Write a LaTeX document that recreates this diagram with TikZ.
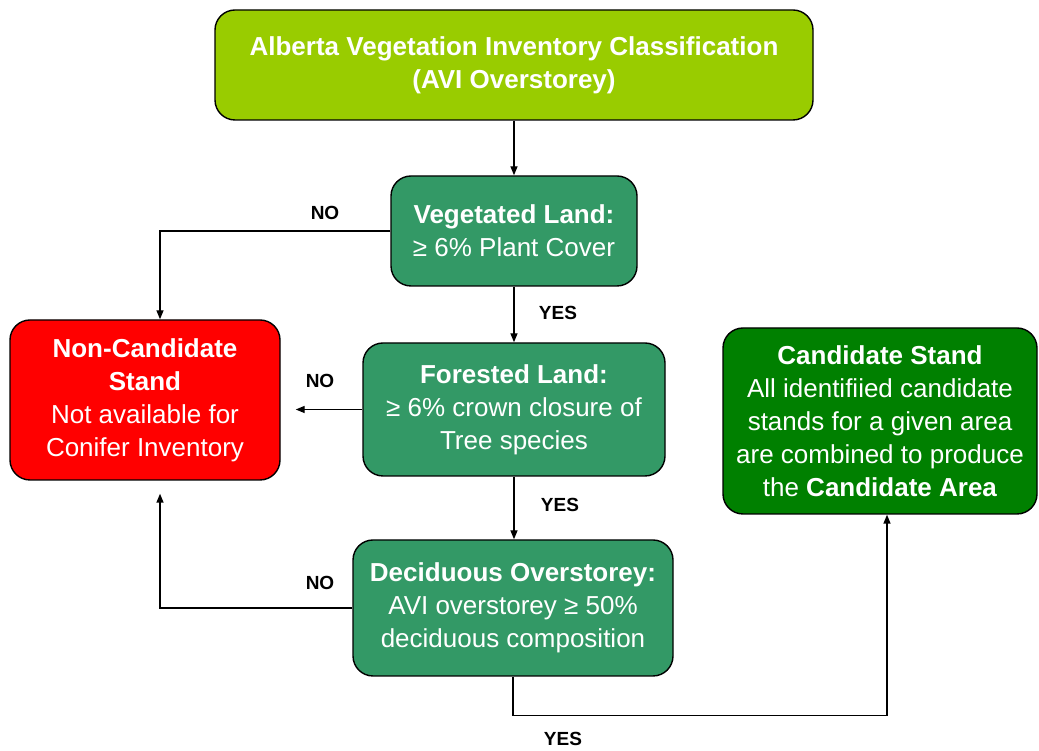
\documentclass[tikz,border=0pt]{standalone}
\usepackage{fontspec}
\setmainfont{Liberation Sans}
\usetikzlibrary{arrows.meta, positioning}
\definecolor{avitop}{HTML}{99CC00}
\definecolor{testgreen}{HTML}{339966}
\definecolor{nored}{HTML}{FF0000}
\definecolor{candgreen}{HTML}{008000}

\begin{document}
\begin{tikzpicture}[x=1pt, y=1pt,
		box/.style={draw=black, line width=1.4pt, rounded corners=20pt, text=white,
			align=center, inner sep=0pt, font=\fontsize{26}{33}\selectfont},
		arr/.style={line width=1.4pt, -{Triangle[length=9pt, width=7pt]}},
		lbl/.style={font=\fontsize{19}{22}\selectfont\bfseries}]
		\useasboundingbox (0,0) rectangle (1039,751);
		
		% 分类框
		\node[box, fill=avitop, minimum width=598, minimum height=110] (avi) at (514,686)
			{\textbf{Alberta Vegetation Inventory Classification}\\\textbf{(AVI Overstorey)}};
		\node[box, fill=testgreen, minimum width=246, minimum height=110] (veg) at (514,520)
			{\textbf{Vegetated Land:}\\≥ 6\% Plant Cover};
		\node[box, fill=testgreen, minimum width=302, minimum height=133] (forest) at (514,341.5)
			{\textbf{Forested Land:}\\≥ 6\% crown closure of\\Tree species};
		\node[box, fill=testgreen, minimum width=320, minimum height=136] (decid) at (513,143)
			{\textbf{Deciduous Overstorey:}\\AVI overstorey ≥ 50\%\\deciduous composition};
		
		% 结果框
		\node[box, fill=nored, minimum width=270, minimum height=160] (noncand) at (145,351)
			{\textbf{Non-Candidate}\\\textbf{Stand}\\Not available for\\Conifer Inventory};
		\node[box, fill=candgreen, minimum width=314, minimum height=186] (cand) at (880,330)
			{\textbf{Candidate Stand}\\All identifiied candidate\\stands for a given area\\are combined to produce\\the \textbf{Candidate Area}};
		
		% 连线
		\draw[arr] (avi) -- (veg);
		\draw[arr] (veg) -- (forest);
		\draw[arr] (forest.south) -- (forest.south |- decid.north);
		\draw[arr] (veg.west) -| ([xshift=15pt]noncand.north);
		\draw[arr, shorten >=15pt] (forest.west) -- (forest.west -| noncand.east);
		\draw[arr, shorten >=13pt] (decid.west) -| ([xshift=15pt]noncand.south);
		\draw[arr] (decid.south) -- ++(0,-39) -| ([xshift=7pt]cand.south);
		
		% 标签
		\node[lbl] (no1) at (325,538) {NO};
		\node[lbl] (yes1) at (558,438) {YES};
		\node[lbl] (no2) at (320,370) {NO};
		\node[lbl] (yes2) at (560,246) {YES};
		\node[lbl] (no3) at (320,168) {NO};
		\node[lbl] (yes3) at (563,12) {YES};
	\end{tikzpicture}
\end{document}
